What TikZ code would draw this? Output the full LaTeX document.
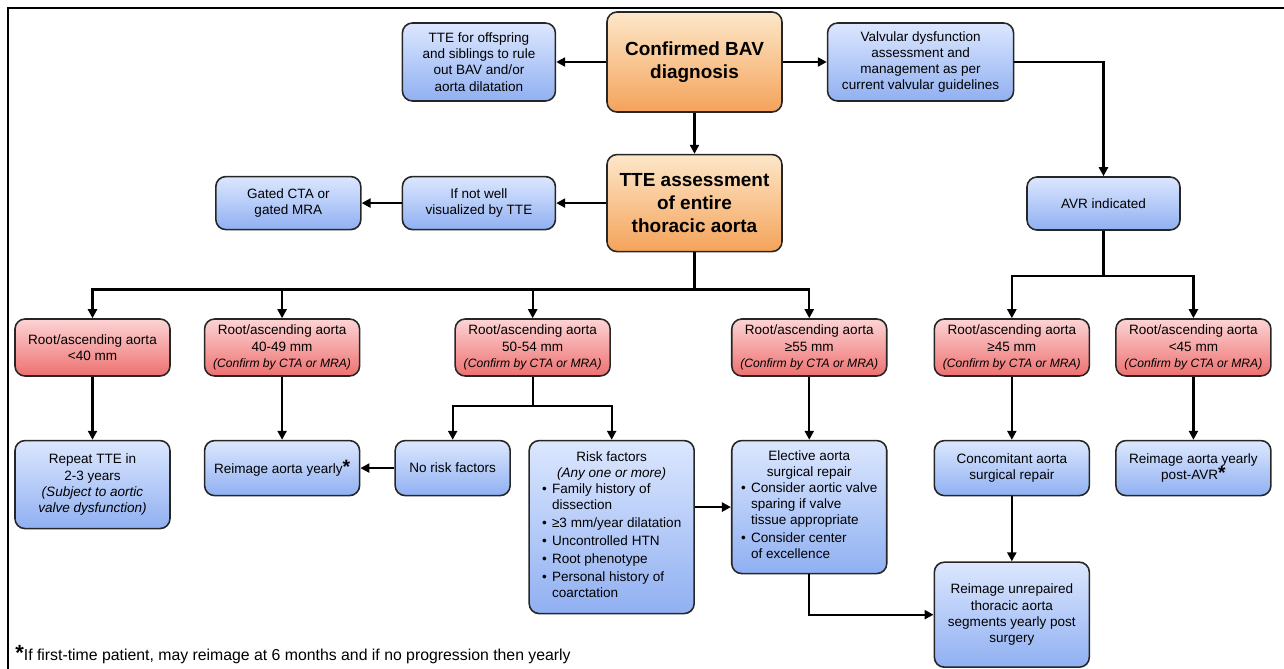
\documentclass[tikz,border=0pt]{standalone}
\usepackage{fontspec}
\setmainfont{Liberation Sans}
\usetikzlibrary{arrows.meta,positioning}

\definecolor{bluetop}{HTML}{DCE7FE}
\definecolor{bluebot}{HTML}{90B0F2}
\definecolor{redtop}{HTML}{FCD4D4}
\definecolor{redbot}{HTML}{EE7070}
\definecolor{orgtop}{HTML}{FDE7C9}
\definecolor{orgbot}{HTML}{F4A35A}

\newcommand{\cnf}{{\fontsize{6.9}{9.2}\selectfont\itshape (Confirm by CTA or MRA)}}
\newcommand{\starmark}{{\fontsize{11}{11}\selectfont\bfseries *}}

\begin{document}
\begin{tikzpicture}[x=0.2mm,y=-0.2mm,font=\fontsize{7.7}{9.2}\selectfont,node distance=7mm,
  box/.style={draw=black!85,line width=0.9pt,rounded corners=2mm,align=center,inner xsep=1.2mm,inner ysep=0.6mm},
  bluebox/.style={box,top color=bluetop,bottom color=bluebot,minimum width=31mm,minimum height=11mm},
  redbox/.style={box,top color=redtop,bottom color=redbot,minimum width=31mm,minimum height=11.4mm},
  keybox/.style={box,top color=orgtop,bottom color=orgbot,minimum width=35mm,font=\fontsize{10.8}{13}\selectfont\bfseries},
  wire/.style={line width=1.3pt},
  arr/.style={wire,-{Triangle[length=1.8mm,width=1.8mm]}}]
\useasboundingbox (0,0) rectangle (1284,669);
\draw[line width=1.5pt] (1284,8) -- (8,8) -- (8,669);

% top of the chart
\node[keybox,minimum height=20mm] (bav) at (694.5,62) {Confirmed BAV\\diagnosis};
\node[bluebox,minimum width=30.6mm,minimum height=15.6mm,left=10mm of bav] (sib) {TTE for offspring\\and siblings to rule\\out BAV and/or\\aorta dilatation};
\node[bluebox,minimum width=37.2mm,minimum height=15.6mm,right=8.8mm of bav] (valv) {Valvular dysfunction\\assessment and\\management as per\\current valvular guidelines};
\node[keybox,minimum height=19.4mm,below=8.2mm of bav] (tte) {TTE assessment\\of entire\\thoracic aorta};
\node[bluebox,minimum width=30.6mm,minimum height=10.6mm,left=10mm of tte] (vis) {If not well\\visualized by TTE};
\node[bluebox,minimum width=29mm,minimum height=10.6mm,left=8mm of vis] (cta) {Gated CTA or\\gated MRA};
\node[bluebox,minimum width=30.6mm,minimum height=10.6mm] (avr) at (1103.5,203.5) {AVR indicated};

% aorta size classes
\node[redbox] (r1) at (92.5,347.5) {Root/ascending aorta\\<40 mm};
\node[redbox,right=6.6mm of r1] (r2) {Root/ascending aorta\\40-49 mm\\\cnf};
\node[redbox,right=18.8mm of r2] (r3) {Root/ascending aorta\\50-54 mm\\\cnf};
\node[redbox,right=24mm of r3] (r4) {Root/ascending aorta\\≥55 mm\\\cnf};
\node[redbox,right=9.2mm of r4] (r5) {Root/ascending aorta\\≥45 mm\\\cnf};
\node[redbox,right=5mm of r5] (r6) {Root/ascending aorta\\<45 mm\\\cnf};

% management
\node[bluebox,minimum height=17.6mm,below=12.6mm of r1] (rep) {Repeat TTE in\\2-3 years\\\textit{(Subject to aortic}\\\textit{valve dysfunction)}};
\node[bluebox,below=12.6mm of r2] (yr) {Reimage aorta yearly\starmark};
\node[bluebox,minimum width=23mm,below=12.6mm of r3,xshift=-16mm] (nrf) {No risk factors};
\node[bluebox,minimum width=33mm,minimum height=34.6mm,below=12.6mm of r3,xshift=15.8mm] (rf) {Risk factors\\\textit{(Any one or more)}\\
  \begin{tabular}[t]{@{}l@{\hspace{3pt}}l@{}}
  \textbullet & Family history of\\ & dissection\\[1pt]
  \textbullet & ≥3 mm/year dilatation\\[1pt]
  \textbullet & Uncontrolled HTN\\[1pt]
  \textbullet & Root phenotype\\[1pt]
  \textbullet & Personal history of\\ & coarctation
  \end{tabular}};
\node[bluebox,minimum height=26.6mm,below=12.6mm of r4] (el) {Elective aorta\\surgical repair\\
  \begin{tabular}[t]{@{}l@{\hspace{3pt}}l@{}}
  \textbullet & Consider aortic valve\\ & sparing if valve\\ & tissue appropriate\\[1pt]
  \textbullet & Consider center\\ & of excellence
  \end{tabular}};
\node[bluebox,below=12.6mm of r5] (cc) {Concomitant aorta\\surgical repair};
\node[bluebox,below=12.6mm of r6] (yr2) {Reimage aorta yearly\\post-AVR\starmark};
\node[bluebox,minimum height=21mm,below=13mm of cc] (unr) {Reimage unrepaired\\thoracic aorta\\segments yearly post\\surgery};

\node[anchor=base west,font=\fontsize{9}{10}\selectfont,inner sep=0pt] (note) at (15,660) {{\fontsize{12.5}{12}\selectfont\bfseries *}If first-time patient, may reimage at 6 months and if no progression then yearly};

% connectors
\draw[arr] (bav) -- (sib);
\draw[arr] (bav) -- (valv);
\draw[arr] (bav) -- (tte);
\draw[arr] (tte) -- (vis);
\draw[arr] (vis) -- (cta);
\draw[arr] (valv.east) -| (avr.north);
\draw[wire] (tte.south) -- ++(0,37) coordinate (split);
\foreach \r in {r1,r2,r3,r4} \draw[arr] (split) -| (\r.north);
\draw[wire] (avr.south) -- ++(0,45) coordinate (split2);
\foreach \r in {r5,r6} \draw[arr] (split2) -| (\r.north);
\draw[wire] (r3.south) -- ++(0,29) coordinate (split3);
\foreach \n in {nrf,rf} \draw[arr] (split3) -| (\n.north);
\draw[arr] (r1) -- (rep);
\draw[arr] (r2) -- (yr);
\draw[arr] (r4) -- (el);
\draw[arr] (r5) -- (cc);
\draw[arr] (r6) -- (yr2);
\draw[arr] (cc) -- (unr);
\draw[arr] (nrf) -- (yr);
\draw[arr] (rf.east |- el.west) -- (el.west);
\draw[arr] (el.south) |- (unr.west);
\end{tikzpicture}
\end{document}
